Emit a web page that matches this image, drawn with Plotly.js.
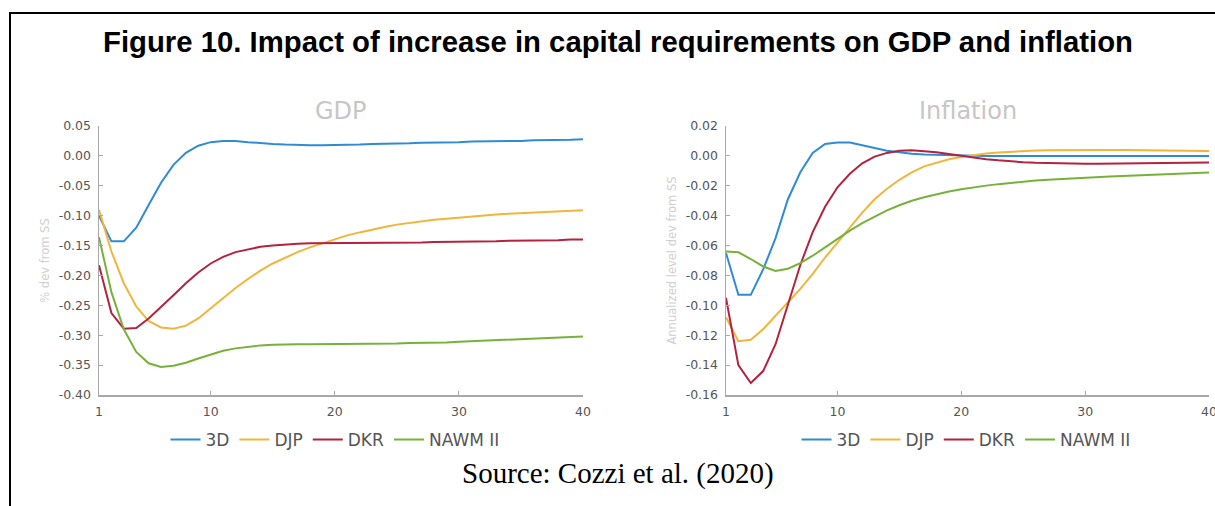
<!DOCTYPE html>
<html>
<head>
<meta charset="utf-8">
<script src="https://cdn.plot.ly/plotly-3.0.1.min.js"></script>
<style>
html,body{margin:0;padding:0;background:#fff;overflow:hidden;}
#chart{width:1215px;height:506px;}
</style>
</head>
<body>
<div id="chart"></div>
<script>
// ---------------- DATA ----------------
const quarters = [1,2,3,4,5,6,7,8,9,10,11,12,13,14,15,16,17,18,19,20,21,22,23,24,25,26,27,28,29,30,31,32,33,34,35,36,37,38,39,40];
const seriesNames = ['3D','DJP','DKR','NAWM II'];

const gdp3D = [-0.100,-0.143,-0.143,-0.120,-0.082,-0.045,-0.015,0.005,0.017,0.023,0.025,0.025,0.023,0.021,0.020,0.019,0.018,0.018,0.018,0.018,0.019,0.019,0.020,0.020,0.021,0.021,0.022,0.022,0.023,0.023,0.024,0.024,0.025,0.025,0.025,0.026,0.026,0.027,0.027,0.028];
const gdpDJP = [-0.090,-0.160,-0.213,-0.252,-0.276,-0.287,-0.289,-0.284,-0.272,-0.255,-0.238,-0.221,-0.206,-0.192,-0.180,-0.170,-0.161,-0.153,-0.146,-0.139,-0.133,-0.128,-0.123,-0.119,-0.115,-0.112,-0.109,-0.107,-0.105,-0.103,-0.101,-0.099,-0.098,-0.097,-0.096,-0.095,-0.094,-0.093,-0.092,-0.091];
const gdpDKR = [-0.183,-0.263,-0.289,-0.288,-0.272,-0.253,-0.233,-0.213,-0.195,-0.180,-0.169,-0.161,-0.156,-0.152,-0.150,-0.148,-0.147,-0.146,-0.146,-0.146,-0.146,-0.146,-0.146,-0.145,-0.145,-0.145,-0.145,-0.144,-0.144,-0.144,-0.144,-0.143,-0.143,-0.142,-0.142,-0.142,-0.141,-0.141,-0.140,-0.140];
const gdpNAWM = [-0.136,-0.228,-0.290,-0.328,-0.347,-0.353,-0.351,-0.346,-0.339,-0.332,-0.326,-0.322,-0.319,-0.317,-0.316,-0.315,-0.315,-0.315,-0.315,-0.314,-0.314,-0.314,-0.314,-0.314,-0.314,-0.313,-0.313,-0.312,-0.312,-0.311,-0.310,-0.310,-0.309,-0.308,-0.307,-0.306,-0.305,-0.304,-0.303,-0.302];

const inf3D = [-0.065,-0.093,-0.093,-0.076,-0.055,-0.029,-0.011,0.002,0.008,0.009,0.009,0.007,0.005,0.0035,0.0025,0.0015,0.001,0.0007,0.0004,0.0002,0.0001,0.0,0.0,0.0,0.0,0.0,0.0,0.0,0.0,0.0,0.0,0.0,0.0,0.0,0.0,0.0,0.0,0.0,0.0,0.0];
const infDJP = [-0.108,-0.124,-0.123,-0.116,-0.107,-0.098,-0.089,-0.079,-0.068,-0.058,-0.048,-0.038,-0.029,-0.022,-0.016,-0.011,-0.007,-0.0045,-0.0022,-0.0008,0.0006,0.0016,0.0023,0.0029,0.0033,0.0036,0.0038,0.0039,0.0040,0.0040,0.0040,0.0039,0.0039,0.0038,0.0037,0.0036,0.0035,0.0034,0.0034,0.0033];
const infDKR = [-0.095,-0.140,-0.152,-0.144,-0.126,-0.100,-0.073,-0.051,-0.034,-0.021,-0.012,-0.005,-0.0005,0.002,0.0034,0.0038,0.0034,0.0025,0.0013,0.0,-0.0011,-0.0022,-0.0030,-0.0037,-0.0042,-0.0046,-0.0049,-0.0051,-0.0052,-0.0053,-0.0053,-0.0052,-0.0051,-0.0050,-0.0049,-0.0048,-0.0047,-0.0046,-0.0045,-0.0044];
const infNAWM = [-0.064,-0.0645,-0.069,-0.074,-0.077,-0.0755,-0.0718,-0.0668,-0.0612,-0.0556,-0.050,-0.045,-0.0405,-0.0365,-0.033,-0.030,-0.0277,-0.0257,-0.0238,-0.0223,-0.021,-0.0199,-0.0189,-0.018,-0.0172,-0.0165,-0.0159,-0.0154,-0.0149,-0.0145,-0.0141,-0.0138,-0.0135,-0.0132,-0.0129,-0.0126,-0.0123,-0.0119,-0.0115,-0.0111];

const xTickVals = [1,10,20,30,40];
const xTickText = ['1','10','20','30','40'];
const gdpTickVals = [0.05,0,-0.05,-0.10,-0.15,-0.20,-0.25,-0.30,-0.35,-0.40];
const gdpTickText = ['0.05','0.00','-0.05','-0.10','-0.15','-0.20','-0.25','-0.30','-0.35','-0.40'];
const infTickVals = [0.02,0,-0.02,-0.04,-0.06,-0.08,-0.10,-0.12,-0.14,-0.16];
const infTickText = ['0.02','0.00','-0.02','-0.04','-0.06','-0.08','-0.10','-0.12','-0.14','-0.16'];

const titleText = 'Figure 10. Impact of increase in capital requirements on GDP and inflation';
const panelTitles = ['GDP','Inflation'];
const yTitles = ['% dev from SS','Annualized level dev from SS'];
const sourceText = 'Source: Cozzi et al. (2020)';

// ---------------- STYLE ----------------
const W = 1215, H = 506;
const colors = ['#2f8bd2','#f0b53a','#b3223f','#76b13a'];
const chartFont = 'DejaVu Sans, Arial, sans-serif';
const tickColor = '#555555';
const axisColor = '#a8a8a8';

const gdpSeries = [gdp3D, gdpDJP, gdpDKR, gdpNAWM];
const infSeries = [inf3D, infDJP, infDKR, infNAWM];

const traces = [];
gdpSeries.forEach((ys, i) => traces.push({
  type:'scatter', mode:'lines', x: quarters, y: ys, name: seriesNames[i],
  xaxis:'x', yaxis:'y', legend:'legend',
  line:{color:colors[i], width:2}
}));
infSeries.forEach((ys, i) => traces.push({
  type:'scatter', mode:'lines', x: quarters, y: ys, name: seriesNames[i],
  xaxis:'x2', yaxis:'y2', legend:'legend2',
  line:{color:colors[i], width:2}
}));

const yDom = [1 - 395/H, 1 - 126/H];
function xAxis(domain, anchor){
  return {domain, anchor, range:[1,40], tickvals:xTickVals, ticktext:xTickText,
    showline:true, linecolor:axisColor, linewidth:1.5, ticks:'inside', ticklen:4,
    tickcolor:axisColor, tickwidth:1, showgrid:false, zeroline:false,
    ticklabelstandoff:4, ticklabeloverflow:'allow',
    tickfont:{family:chartFont, size:12.5, color:tickColor}};
}
function yAxis(anchor, range, vals, text, title){
  return {domain:yDom, anchor, range, tickvals:vals, ticktext:text,
    showline:true, linecolor:axisColor, linewidth:1.5, ticks:'inside', ticklen:4,
    tickcolor:axisColor, tickwidth:1, showgrid:false, zeroline:false,
    ticklabelstandoff:4, ticklabeloverflow:'allow',
    tickfont:{family:chartFont, size:12.5, color:tickColor},
    title:{text:title, font:{family:chartFont, size:11.5, color:'#d0d0d0'}, standoff:6}};
}
const legendBase = {orientation:'h', xanchor:'center', yanchor:'middle', y: 1 - 440/H,
  bgcolor:'rgba(0,0,0,0)', borderwidth:0,
  font:{family:chartFont, size:17, color:tickColor}};

const layout = {
  width:W, height:H, margin:{l:0,r:0,t:0,b:0},
  paper_bgcolor:'#ffffff', plot_bgcolor:'#ffffff',
  showlegend:true,
  title:{text:titleText, x:618/W, xanchor:'center', xref:'paper', y:1-42/H, yref:'paper', yanchor:'middle',
    font:{family:'Liberation Sans, Arial, sans-serif', size:29.3, color:'#000000', weight:'bold'}},
  xaxis: xAxis([99/W, 583/W], 'y'),
  yaxis: yAxis('x', [-0.40, 0.05], gdpTickVals, gdpTickText, yTitles[0]),
  xaxis2: xAxis([726/W, 1209/W], 'y2'),
  yaxis2: yAxis('x2', [-0.16, 0.02], infTickVals, infTickText, yTitles[1]),
  legend: Object.assign({}, legendBase, {x: 335/W}),
  legend2: Object.assign({}, legendBase, {x: 966/W}),
  annotations:[
    {text:panelTitles[0], xref:'paper', yref:'paper', x:341/W, y:1-111/H, xanchor:'center', yanchor:'middle', showarrow:false,
      font:{family:chartFont, size:24, color:'#c6c6c6'}},
    {text:panelTitles[1], xref:'paper', yref:'paper', x:967.5/W, y:1-111/H, xanchor:'center', yanchor:'middle', showarrow:false,
      font:{family:chartFont, size:24, color:'#c6c6c6'}},
    {text:sourceText, xref:'paper', yref:'paper', x:618/W, y:1-473/H, xanchor:'center', yanchor:'middle', showarrow:false,
      font:{family:'Liberation Serif, Times New Roman, serif', size:29, color:'#000000'}}
  ],
  shapes:[
    {type:'line', xref:'paper', yref:'paper', x0:10/W, x1:10/W, y0:1-12/H, y1:-0.2, line:{color:'#000', width:2}},
    {type:'line', xref:'paper', yref:'paper', x0:9/W, x1:1.2, y0:1-13/H, y1:1-13/H, line:{color:'#000', width:2}}
  ]
};

Plotly.newPlot('chart', traces, layout, {staticPlot:true, displayModeBar:false});
</script>
</body>
</html>
